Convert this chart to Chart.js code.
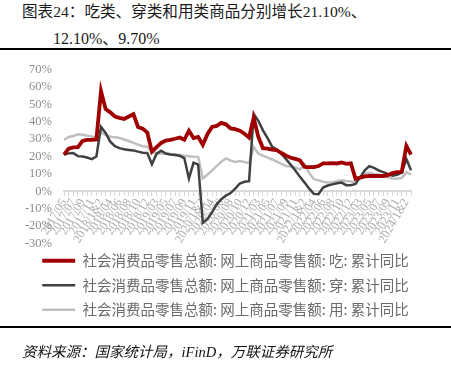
<!DOCTYPE html>
<html>
<head>
<meta charset="utf-8">
<script src="https://cdn.jsdelivr.net/npm/chart.js@4.4.1/dist/chart.umd.min.js"></script>
<style>
  body { margin: 0; width: 451px; height: 365px; background: #fff; position: relative; overflow: hidden;
         font-family: "Liberation Serif", "Noto Sans CJK SC", serif; }
  .title { position: absolute; font-size: 15.6px; line-height: 20px; color: #1a1a1a; white-space: nowrap; }
  #t1 { left: 22px; top: 2px; }
  #t2 { left: 53px; top: 29px; font-size: 16px; }
  .rule { position: absolute; left: 0; width: 451px; height: 2px; background: #000; }
  #src { position: absolute; left: 22px; top: 340px; font-size: 14.5px; font-style: italic; color: #111; white-space: nowrap; }
  #wrap { position: absolute; left: 0; top: 50px; width: 451px; height: 277px; }
</style>
</head>
<body>
<div class="title" id="t1">图表24：吃类、穿类和用类商品分别增长21.10%、</div>
<div class="title" id="t2">12.10%、9.70%</div>
<div class="rule" style="top:48px"></div>
<div id="wrap"><canvas id="chart"></canvas></div>
<div class="rule" style="top:326px"></div>
<div id="src">资料来源：国家统计局，iFinD，万联证券研究所</div>
<script>
// 月份（累计同比，1-2月合并）
const months = [
  '2017/05','2017/06','2017/07','2017/08','2017/09','2017/10','2017/11','2017/12',
  '2018/1&2','2018/03','2018/04','2018/05','2018/06','2018/07','2018/08','2018/09','2018/10','2018/11','2018/12',
  '2019/1&2','2019/03','2019/04','2019/05','2019/06','2019/07','2019/08','2019/09','2019/10','2019/11','2019/12',
  '2020/1&2','2020/03','2020/04','2020/05','2020/06','2020/07','2020/08','2020/09','2020/10','2020/11','2020/12',
  '2021/1&2','2021/03','2021/04','2021/05','2021/06','2021/07','2021/08','2021/09','2021/10','2021/11','2021/12',
  '2022/1&2','2022/03','2022/04','2022/05','2022/06','2022/07','2022/08','2022/09','2022/10','2022/11','2022/12',
  '2023/1&2','2023/03','2023/04','2023/05','2023/06','2023/07','2023/08','2023/09','2023/10','2023/11','2023/12',
  '2024/1&2','2024/03'
];

// 吃类
const food = [
  21.1, 24.5, 25.2, 25.4, 29.0, 29.6, 29.6, 29.8,
  57.6, 47.2, 45.4, 43.0, 42.2, 41.6, 43.0, 44.3, 37.0, 36.0, 33.8,
  22.8, 25.4, 27.8, 29.1, 29.6, 30.2, 30.9, 29.6, 34.8, 30.6, 31.3,
  26.7, 32.8, 37.0, 37.6, 39.3, 38.5, 36.1, 35.7, 34.8, 33.1, 30.9,
  42.2, 31.3, 24.8, 24.5, 23.9, 23.6, 22.0, 20.5, 19.3, 18.6, 17.8,
  14.0, 13.9, 13.9, 14.5, 16.1, 16.1, 16.2, 16.0, 16.6, 15.8, 16.1,
  7.2, 7.8, 8.6, 8.8, 8.8, 8.8, 8.8, 9.3, 10.5, 11.0, 11.2,
  26.1, 21.1
];

// 穿类
const clothing = [
  21.2, 21.8, 22.0, 20.2, 20.0, 19.4, 18.5, 20.0,
  37.0, 33.5, 28.5, 25.9, 24.8, 24.1, 23.8, 23.5, 22.8, 22.2, 22.0,
  15.5, 21.5, 23.3, 21.7, 21.2, 20.8, 20.4, 19.1, 7.4, 16.5, 15.4,
  -18.1, -16.0, -12.0, -7.5, -4.5, -2.5, -1.0, 1.5, 4.5, 5.5, 5.8,
  44.4, 40.5, 35.0, 30.5, 25.5, 24.0, 21.5, 18.5, 15.3, 12.0, 8.3,
  5.0, 1.5, -1.5, -1.7, 2.2, 3.3, 4.0, 4.6, 5.0, 3.5, 3.5,
  4.2, 8.0, 12.0, 14.5, 13.5, 12.0, 11.0, 10.0, 9.0, 9.5, 10.8,
  18.5, 12.1
];

// 用类
const daily = [
  29.6, 31.2, 31.8, 32.8, 32.5, 32.0, 31.5, 30.8,
  33.7, 32.3, 31.5, 31.0, 30.6, 29.8, 28.9, 27.8, 26.8, 25.9, 25.6,
  22.5, 22.0, 21.7, 21.6, 21.4, 21.3, 20.9, 20.4, 20.2, 19.9, 19.8,
  7.4, 9.5, 12.0, 14.5, 17.0, 18.9, 17.7, 16.8, 17.4, 16.8, 16.2,
  25.4, 21.7, 20.5, 19.3, 18.3, 17.0, 15.8, 14.5, 14.3, 13.8, 12.5,
  15.3, 10.5, 7.0, 6.3, 5.5, 5.0, 5.1, 5.8, 6.3, 5.9, 5.7,
  5.4, 7.7, 10.3, 10.6, 10.0, 9.5, 8.8, 8.0, 7.4, 7.2, 7.7,
  10.9, 9.7
];

const names = [
  '社会消费品零售总额: 网上商品零售额: 吃: 累计同比',
  '社会消费品零售总额: 网上商品零售额: 穿: 累计同比',
  '社会消费品零售总额: 网上商品零售额: 用: 累计同比'
];

const ctx = document.getElementById('chart').getContext('2d');
new Chart(ctx, {
  type: 'line',
  data: {
    labels: months,
    datasets: [
      { label: names[0], data: food, borderColor: '#a00000', backgroundColor: '#a00000', borderWidth: 3.8 },
      { label: names[1], data: clothing, borderColor: '#404040', backgroundColor: '#404040', borderWidth: 2.5 },
      { label: names[2], data: daily, borderColor: '#bfbfbf', backgroundColor: '#bfbfbf', borderWidth: 2.5 }
    ]
  },
  options: {
    responsive: true,
    maintainAspectRatio: false,
    animation: false,
    elements: { point: { radius: 0 }, line: { tension: 0 } },
    layout: { padding: { left: 0, right: 0, top: 2, bottom: 0 } },
    scales: {
      x: {
        position: { y: 0 },
        // x 轴画在 0% 处，不占布局高度；右侧留白用 paddingRight
        afterFit: (axis) => { axis.height = 0; axis.paddingRight = 40; },
        grid: { display: true, drawOnChartArea: false, drawTicks: true, tickLength: 4, color: '#d9d9d9' },
        border: { display: true, color: '#d9d9d9', width: 2 },
        ticks: {
          autoSkip: false, minRotation: 60, maxRotation: 60, padding: 1,
          color: '#ababab', font: { family: 'Liberation Serif', size: 12 },
          callback: function (v, i) { return i % 2 === 0 ? this.getLabelForValue(v) : ''; }
        }
      },
      y: {
        min: -30, max: 70,
        afterFit: (axis) => { axis.width = 64; },
        grid: { display: false, drawTicks: false },
        border: { display: false },
        ticks: {
          stepSize: 10, padding: 12, color: '#8c8c8c',
          font: { family: 'Liberation Serif', size: 12.5 },
          callback: (v) => v + '%'
        }
      }
    },
    plugins: {
      legend: {
        position: 'bottom',
        labels: {
          usePointStyle: true, pointStyle: 'line', pointStyleWidth: 33, padding: 10,
          color: '#6b6b6b', font: { family: 'Noto Sans CJK SC', size: 14.5 }
        }
      },
      tooltip: { enabled: false }
    }
  }
});
</script>
</body>
</html>
